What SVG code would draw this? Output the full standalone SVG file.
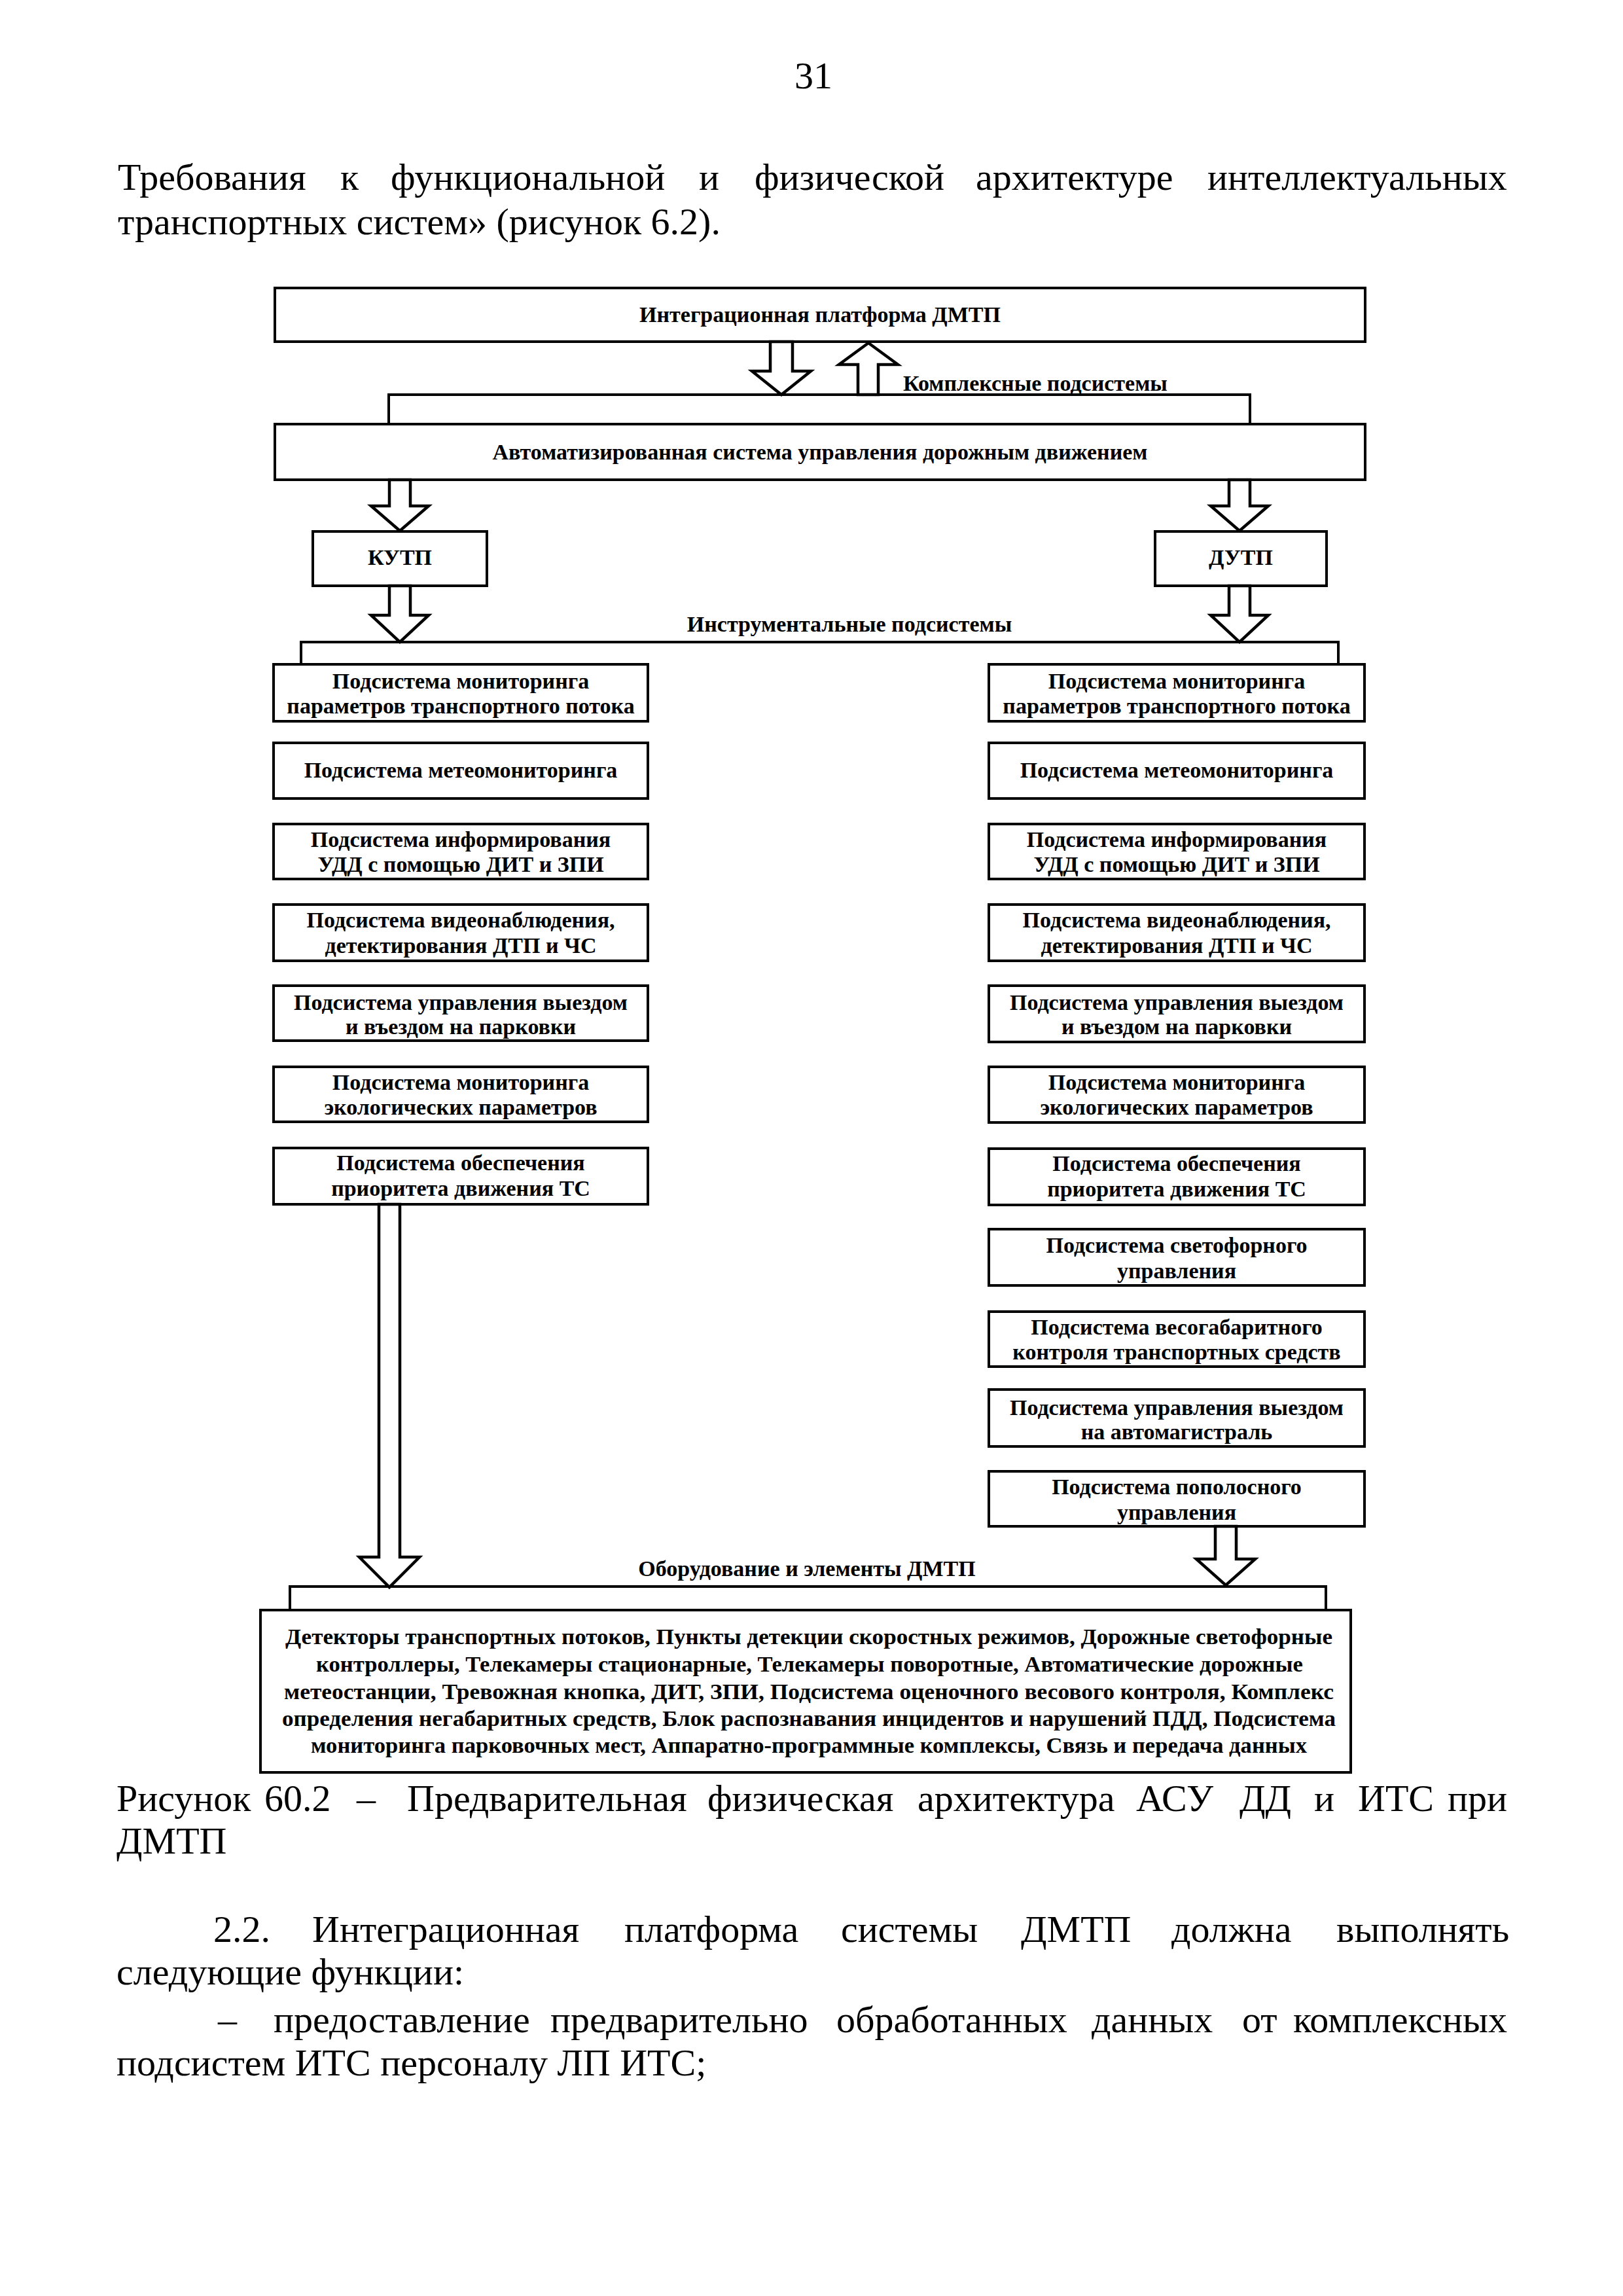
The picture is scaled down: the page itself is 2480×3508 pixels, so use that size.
<svg xmlns="http://www.w3.org/2000/svg" width="2480" height="3508" viewBox="0 0 2480 3508">
<style>
.bg{fill:#fff}
.box{fill:#fff;stroke:#000;stroke-width:4}
.arrow{fill:#fff;stroke:#000;stroke-width:4.5;stroke-linejoin:miter}
.line{fill:none;stroke:#000;stroke-width:4}
.t{font-family:"Liberation Serif","Times New Roman",serif;font-weight:bold;font-size:34px;text-anchor:middle;fill:#000}
.tl{font-family:"Liberation Serif","Times New Roman",serif;font-weight:bold;font-size:34px;fill:#000}
.body{font-family:"Liberation Serif","Times New Roman",serif;font-size:58px;fill:#000}
</style>
<rect class="bg" x="0" y="0" width="2480" height="3508"/>

<g id="page-text">
<text class="body" x="1243" y="135" font-size="50" text-anchor="middle">31</text>
<text class="body" y="290"><tspan x="180">Требования</tspan><tspan x="520">к</tspan><tspan x="597">функциональной</tspan><tspan x="1068">и</tspan><tspan x="1153">физической</tspan><tspan x="1491">архитектуре</tspan><tspan x="1845">интеллектуальных</tspan></text>
<text class="body" x="180" y="358">транспортных систем» (рисунок 6.2).</text>
<text class="body" y="2767"><tspan x="178">Рисунок</tspan><tspan x="404">60.2</tspan><tspan x="545">–</tspan><tspan x="622">Предварительная</tspan><tspan x="1081">физическая</tspan><tspan x="1402">архитектура</tspan><tspan x="1736">АСУ</tspan><tspan x="1894">ДД</tspan><tspan x="2008">и</tspan><tspan x="2075">ИТС</tspan><tspan x="2212">при</tspan></text>
<text class="body" x="178" y="2832">ДМТП</text>
<text class="body" y="2967"><tspan x="326">2.2.</tspan><tspan x="477">Интеграционная</tspan><tspan x="954">платформа</tspan><tspan x="1285">системы</tspan><tspan x="1560">ДМТП</tspan><tspan x="1790">должна</tspan><tspan x="2042">выполнять</tspan></text>
<text class="body" x="178" y="3032">следующие функции:</text>
<text class="body" y="3105"><tspan x="333">–</tspan><tspan x="418">предоставление</tspan><tspan x="841">предварительно</tspan><tspan x="1278">обработанных</tspan><tspan x="1668">данных</tspan><tspan x="1898">от</tspan><tspan x="1976">комплексных</tspan></text>
<text class="body" x="178" y="3171">подсистем ИТС персоналу ЛП ИТС;</text>
</g>

<g id="node-platform">
<rect class="box" x="420" y="440" width="1666" height="82"/>
<text class="t" x="1253" y="492">Интеграционная платформа ДМТП</text>
</g>
<g id="node-asudd">
<rect class="box" x="420" y="648" width="1666" height="85"/>
<text class="t" x="1253" y="702">Автоматизированная система управления дорожным движением</text>
</g>
<g id="node-kutp">
<rect class="box" x="478" y="812" width="266" height="83"/>
<text class="t" x="611" y="863">КУТП</text>
</g>
<g id="node-dutp">
<rect class="box" x="1765" y="812" width="262" height="83"/>
<text class="t" x="1896" y="863">ДУТП</text>
</g>

<g id="left-column">
<g id="L1"><rect class="box" x="418" y="1015" width="572" height="87"/><text class="t" x="704" y="1052">Подсистема мониторинга</text><text class="t" x="704" y="1090">параметров транспортного потока</text></g>
<g id="L2"><rect class="box" x="418" y="1135" width="572" height="85"/><text class="t" x="704" y="1188">Подсистема метеомониторинга</text></g>
<g id="L3"><rect class="box" x="418" y="1259" width="572" height="84"/><text class="t" x="704" y="1294">Подсистема информирования</text><text class="t" x="704" y="1332">УДД с помощью ДИТ и ЗПИ</text></g>
<g id="L4"><rect class="box" x="418" y="1382" width="572" height="86"/><text class="t" x="704" y="1417">Подсистема видеонаблюдения,</text><text class="t" x="704" y="1456">детектирования ДТП и ЧС</text></g>
<g id="L5"><rect class="box" x="418" y="1506" width="572" height="84"/><text class="t" x="704" y="1543">Подсистема управления выездом</text><text class="t" x="704" y="1580">и въездом на парковки</text></g>
<g id="L6"><rect class="box" x="418" y="1630" width="572" height="84"/><text class="t" x="704" y="1665">Подсистема мониторинга</text><text class="t" x="704" y="1703">экологических параметров</text></g>
<g id="L7"><rect class="box" x="418" y="1754" width="572" height="86"/><text class="t" x="704" y="1788">Подсистема обеспечения</text><text class="t" x="704" y="1827">приоритета движения ТС</text></g>
</g>

<g id="right-column">
<g id="R1"><rect class="box" x="1511" y="1015" width="574" height="87"/><text class="t" x="1798" y="1052">Подсистема мониторинга</text><text class="t" x="1798" y="1090">параметров транспортного потока</text></g>
<g id="R2"><rect class="box" x="1511" y="1135" width="574" height="85"/><text class="t" x="1798" y="1188">Подсистема метеомониторинга</text></g>
<g id="R3"><rect class="box" x="1511" y="1259" width="574" height="84"/><text class="t" x="1798" y="1294">Подсистема информирования</text><text class="t" x="1798" y="1332">УДД с помощью ДИТ и ЗПИ</text></g>
<g id="R4"><rect class="box" x="1511" y="1382" width="574" height="86"/><text class="t" x="1798" y="1417">Подсистема видеонаблюдения,</text><text class="t" x="1798" y="1456">детектирования ДТП и ЧС</text></g>
<g id="R5"><rect class="box" x="1511" y="1506" width="574" height="86"/><text class="t" x="1798" y="1543">Подсистема управления выездом</text><text class="t" x="1798" y="1580">и въездом на парковки</text></g>
<g id="R6"><rect class="box" x="1511" y="1630" width="574" height="85"/><text class="t" x="1798" y="1665">Подсистема мониторинга</text><text class="t" x="1798" y="1703">экологических параметров</text></g>
<g id="R7"><rect class="box" x="1511" y="1755" width="574" height="86"/><text class="t" x="1798" y="1789">Подсистема обеспечения</text><text class="t" x="1798" y="1828">приоритета движения ТС</text></g>
<g id="R8"><rect class="box" x="1511" y="1878" width="574" height="86"/><text class="t" x="1798" y="1914">Подсистема светофорного</text><text class="t" x="1798" y="1953">управления</text></g>
<g id="R9"><rect class="box" x="1511" y="2004" width="574" height="84"/><text class="t" x="1798" y="2039">Подсистема весогабаритного</text><text class="t" x="1798" y="2077">контроля транспортных средств</text></g>
<g id="R10"><rect class="box" x="1511" y="2123" width="574" height="87"/><text class="t" x="1798" y="2162">Подсистема управления выездом</text><text class="t" x="1798" y="2199">на автомагистраль</text></g>
<g id="R11"><rect class="box" x="1511" y="2248" width="574" height="84"/><text class="t" x="1798" y="2283">Подсистема пополосного</text><text class="t" x="1798" y="2322">управления</text></g>
</g>

<g id="node-equipment">
<rect class="box" x="398" y="2460" width="1666" height="248"/>
<text class="t" x="1236" y="2512" textLength="1600" lengthAdjust="spacingAndGlyphs">Детекторы транспортных потоков, Пункты детекции скоростных режимов, Дорожные светофорные</text>
<text class="t" x="1237" y="2554" textLength="1508" lengthAdjust="spacingAndGlyphs">контроллеры, Телекамеры стационарные, Телекамеры поворотные, Автоматические дорожные</text>
<text class="t" x="1236" y="2596" textLength="1604" lengthAdjust="spacingAndGlyphs">метеостанции, Тревожная кнопка, ДИТ, ЗПИ, Подсистема оценочного весового контроля, Комплекс</text>
<text class="t" x="1236" y="2637" textLength="1610" lengthAdjust="spacingAndGlyphs">определения негабаритных средств, Блок распознавания инцидентов и нарушений ПДД, Подсистема</text>
<text class="t" x="1236" y="2678" textLength="1522" lengthAdjust="spacingAndGlyphs">мониторинга парковочных мест, Аппаратно-программные комплексы, Связь и передача данных</text>
</g>

<g id="connectors">
<polyline class="line" stroke-width="3" points="594,648 594,603 1910,603 1910,648"/>
<polygon class="arrow" points="1177,522 1211,522 1211,567 1239,567 1194,603 1149,567 1177,567"/>
<polygon class="arrow" points="1311,603 1342,603 1342,557 1372,557 1327,524 1282,557 1311,557"/>
<text class="tl" x="1380" y="597">Комплексные подсистемы</text>

<polygon class="arrow" points="595,733 627,733 627,773 655,773 611,811 567,773 595,773"/>
<polygon class="arrow" points="1878,733 1910,733 1910,773 1938,773 1894,811 1850,773 1878,773"/>
<polygon class="arrow" points="595,895 627,895 627,940 655,940 611,981 567,940 595,940"/>
<polygon class="arrow" points="1878,895 1910,895 1910,940 1938,940 1894,981 1850,940 1878,940"/>

<polyline class="line" points="460,1015 460,981 2045,981 2045,1015"/>
<text class="t" x="1298" y="965">Инструментальные подсистемы</text>

<polygon class="arrow" points="579,1840 611,1840 611,2379 641,2379 595,2425 549,2379 579,2379"/>
<polygon class="arrow" points="1857,2332 1889,2332 1889,2382 1918,2382 1873,2422 1828,2382 1857,2382"/>

<polyline class="line" stroke-width="3" points="443,2460 443,2424 2026,2424 2026,2460"/>
<text class="t" x="1233" y="2408">Оборудование и элементы ДМТП</text>
</g>
</svg>
